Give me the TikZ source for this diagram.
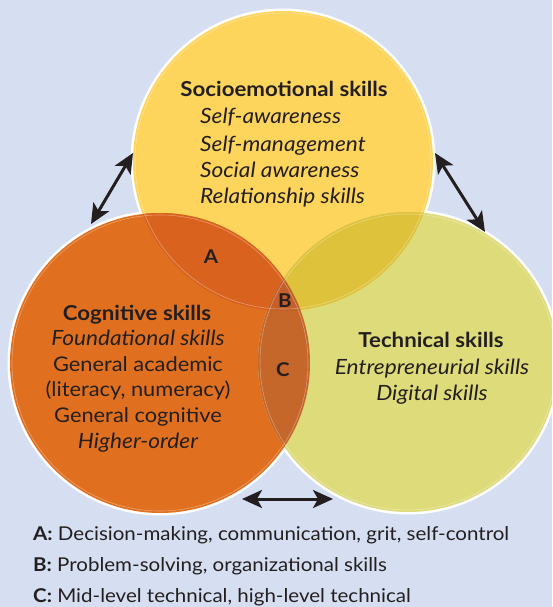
\documentclass[tikz,border=0pt]{standalone}
\usepackage{fontspec}
\setmainfont{Lato}[FakeStretch=1.08]
\usetikzlibrary{arrows.meta}
\definecolor{bg}{HTML}{D6DFF1}
\definecolor{topc}{HTML}{FDD45C}
\definecolor{leftc}{HTML}{E0701F}
\definecolor{rightc}{HTML}{DEDB7A}
\definecolor{ac}{HTML}{D9631E}
\definecolor{trc}{HTML}{DFC23B}
\definecolor{cc}{HTML}{C5662A}
\definecolor{bc}{HTML}{C35F28}
\definecolor{ink}{HTML}{231F20}
\tikzset{
  head/.style={font=\fontsize{20.6}{25}\selectfont\bfseries, text=ink, inner sep=0pt, anchor=mid},
  item/.style={font=\fontsize{21}{25}\selectfont\itshape, text=ink, inner sep=0pt},
  plain/.style={font=\fontsize{20.2}{25}\selectfont, text=ink, inner sep=0pt},
  letter/.style={font=\fontsize{19}{22}\selectfont\bfseries, text=ink, inner sep=0pt},
  legend/.style={font=\fontsize{19}{22}\selectfont, text=ink, inner sep=0pt, anchor=mid west},
  link/.style={ink, line width=3pt, {Stealth[length=20pt,width=18pt,inset=5pt]}-{Stealth[length=20pt,width=18pt,inset=5pt]}},
}
\begin{document}
\begin{tikzpicture}[x=1pt,y=-1pt]
\fill[bg] (0,0) rectangle (552,607);
\useasboundingbox (0,0) rectangle (552,607);
\clip (0,0) rectangle (552,607);
\coordinate (T) at (283,161);
\coordinate (L) at (160,363);
\coordinate (R) at (408,362);
% outer white outline
\foreach \c in {T,L,R} \draw[white, line width=5pt] (\c) circle[radius=150pt];
% fills
\fill[topc] (T) circle[radius=150pt];
\fill[leftc] (L) circle[radius=150pt];
\fill[rightc] (R) circle[radius=150pt];
\begin{scope}
  \clip (T) circle[radius=150pt];
  \fill[ac] (L) circle[radius=150pt];
  \fill[trc] (R) circle[radius=150pt];
\end{scope}
\begin{scope}
  \clip (L) circle[radius=150pt];
  \fill[cc] (R) circle[radius=150pt];
  \clip (T) circle[radius=150pt];
  \fill[bc] (R) circle[radius=150pt];
\end{scope}
% faint inner outlines
\foreach \c in {T,L,R} \draw[white, opacity=0.35, line width=0.6pt] (\c) circle[radius=148pt];
% texts
\node[head] (th) at (284,94) {Socioemotional skills};
\node[item, anchor=mid west] (t1) at (200,121) {Self-awareness};
\node[item, anchor=mid west] (t2) at (200,149) {Self-management};
\node[item, anchor=mid west] (t3) at (200,175) {Social awareness};
\node[item, anchor=mid west] (t4) at (200,201) {Relationship skills};
\node[head] (lh) at (137,318) {Cognitive skills};
\node[item, anchor=mid] (l1) at (138,343) {Foundational skills};
\node[plain, anchor=mid] (l2) at (138,369) {General academic};
\node[plain, anchor=mid] (l3) at (138,394) {(literacy, numeracy)};
\node[plain, anchor=mid] (l4) at (138,420) {General cognitive};
\node[item, anchor=mid] (l5) at (138,446) {Higher-order};
\node[head] (rh) at (431,345) {Technical skills};
\node[item, anchor=mid] (r1) at (432,372) {Entrepreneurial skills};
\node[item, anchor=mid] (r2) at (432,398) {Digital skills};
\node[letter] (A) at (211,257) {A};
\node[letter] (B) at (285,301) {B};
\node[letter] (C) at (283,370) {C};
% arrows
\coordinate (a1) at (133,153); \coordinate (a2) at (91,224);
\coordinate (b1) at (435,153); \coordinate (b2) at (485,232);
\coordinate (c1) at (242,499); \coordinate (c2) at (333,499);
\draw[link] (a1) -- (a2);
\draw[link] (b1) -- (b2);
\draw[link] (c1) -- (c2);
% legend
\node[legend] (la) at (33,538) {\textbf{A:} Decision-making, communication, grit, self-control};
\node[legend] (lb) at (33,569) {\textbf{B:} Problem-solving, organizational skills};
\node[legend] (lc) at (33,600) {\textbf{C:} Mid-level technical, high-level technical};
\end{tikzpicture}
\end{document}
